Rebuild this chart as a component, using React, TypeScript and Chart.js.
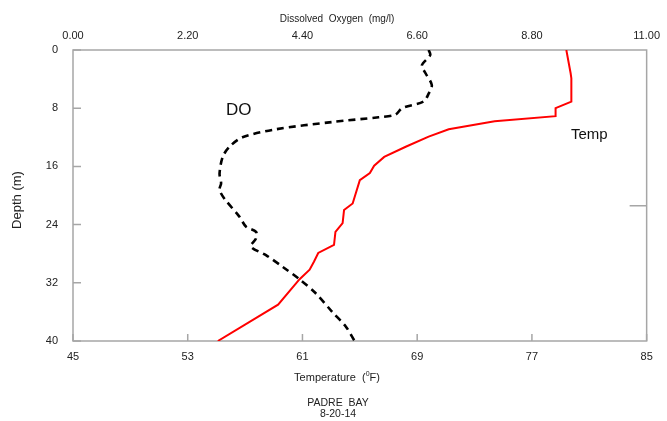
import React, { useEffect, useRef } from "react";
import { Chart, registerables } from "chart.js";

Chart.register(...registerables);

const FONT = "'Liberation Sans', Arial, sans-serif";

// Temperature profile (°F) vs depth (m)
const tempDepth = [0, 3.2, 3.9, 7.1, 8.0, 9.1, 9.8, 10.9, 11.9, 13.3, 14.7, 15.9, 16.9, 17.9, 21.1, 22.0, 23.8, 25.0, 26.8, 27.9, 29.1, 30.2, 31.5, 35.0, 40];
const tempValues = [79.4, 79.7, 79.75, 79.75, 78.65, 78.65, 74.4, 71.2, 69.8, 68.2, 66.7, 66.0, 65.7, 65.0, 64.5, 63.9, 63.8, 63.3, 63.2, 62.1, 61.8, 61.5, 60.8, 59.3, 55.1];

// Dissolved oxygen profile (mg/l) vs depth (m)
const doDepth = [0, 0.7, 2.1, 3.2, 4.8, 6.0, 7.1, 8.0, 8.9, 9.25, 9.9, 10.9, 12.0, 13.3, 14.7, 17.0, 18.3, 19.2, 20.4, 22.9, 24.3, 25.0, 25.9, 27.0, 28.2, 29.8, 31.5, 33.4, 36.0, 38.0, 40];
const doValues = [6.82, 6.85, 6.69, 6.76, 6.88, 6.82, 6.72, 6.31, 6.18, 5.86, 4.97, 3.89, 3.25, 3.0, 2.87, 2.81, 2.84, 2.81, 2.9, 3.19, 3.32, 3.51, 3.51, 3.41, 3.7, 4.02, 4.34, 4.65, 4.97, 5.23, 5.4];

// Axis ticks
const tempTicks = [45, 53, 61, 69, 77, 85];
const doTicks = [0, 2.2, 4.4, 6.6, 8.8, 11];
const depthTicks = [0, 8, 16, 24, 32, 40];

// Annotation labels
const doLabel = { text: "DO", value: 3.18, depth: 8.25 };
const tempLabel = { text: "Temp", value: 81.0, depth: 11.6 };
const strayTickDepth = 21.4;

const decorPlugin = {
  id: "decor",
  beforeDatasetsDraw(chart: any) {
    const { ctx, chartArea: a, scales } = chart;
    ctx.save();
    ctx.strokeStyle = "#a6a6a6";
    ctx.lineWidth = 1.5;
    ctx.strokeRect(a.left, a.top, a.right - a.left, a.bottom - a.top);
    ctx.beginPath();
    tempTicks.forEach((v) => {
      const x = scales.x.getPixelForValue(v);
      ctx.moveTo(x, a.bottom);
      ctx.lineTo(x, a.bottom - 7);
    });
    depthTicks.forEach((v) => {
      const y = scales.y.getPixelForValue(v);
      ctx.moveTo(a.left, y);
      ctx.lineTo(a.left + 8, y);
    });
    const sy = scales.y.getPixelForValue(strayTickDepth);
    ctx.moveTo(a.right - 17, sy);
    ctx.lineTo(a.right, sy);
    ctx.stroke();
    ctx.restore();
  },
  afterDraw(chart: any) {
    const { ctx, scales } = chart;
    ctx.save();
    ctx.fillStyle = "#222";
    ctx.textAlign = "center";
    ctx.textBaseline = "middle";

    ctx.font = `10px ${FONT}`;
    ctx.fillText("Dissolved  Oxygen  (mg/l)", 337, 19);

    // Temperature title with superscript 0
    const p1 = "Temperature  (";
    const p2 = "0";
    const p3 = "F)";
    ctx.font = `11px ${FONT}`;
    const w1 = ctx.measureText(p1).width;
    const w3 = ctx.measureText(p3).width;
    ctx.font = `7px ${FONT}`;
    const w2 = ctx.measureText(p2).width;
    const total = w1 + w2 + w3;
    let sx = 337 - total / 2;
    ctx.textAlign = "left";
    ctx.font = `11px ${FONT}`;
    ctx.fillText(p1, sx, 378);
    ctx.font = `7px ${FONT}`;
    ctx.fillText(p2, sx + w1, 374);
    ctx.font = `11px ${FONT}`;
    ctx.fillText(p3, sx + w1 + w2, 378);

    ctx.textAlign = "center";
    ctx.font = `10.5px ${FONT}`;
    ctx.fillText("PADRE  BAY", 338, 403);
    ctx.fillText("8-20-14", 338, 414);

    ctx.save();
    ctx.translate(17, 200);
    ctx.rotate(-Math.PI / 2);
    ctx.font = `13px ${FONT}`;
    ctx.fillText("Depth (m)", 0, 0);
    ctx.restore();

    ctx.fillStyle = "#111";
    ctx.font = `17px ${FONT}`;
    ctx.fillText(doLabel.text, scales.x2.getPixelForValue(doLabel.value), scales.y.getPixelForValue(doLabel.depth));
    ctx.font = `15px ${FONT}`;
    ctx.fillText(tempLabel.text, scales.x.getPixelForValue(tempLabel.value), scales.y.getPixelForValue(tempLabel.depth));
    ctx.restore();
  },
};

export default function App() {
  const ref = useRef<HTMLCanvasElement>(null);
  useEffect(() => {
    const tickFont = { family: FONT, size: 11 };
    const chart = new Chart(ref.current as HTMLCanvasElement, {
      type: "scatter",
      data: {
        datasets: [
          {
            label: "Temp",
            data: tempDepth.map((d, i) => ({ x: tempValues[i], y: d })),
            xAxisID: "x",
            yAxisID: "y",
            showLine: true,
            borderColor: "#ff0000",
            borderWidth: 2,
            pointRadius: 0,
            tension: 0,
          },
          {
            label: "DO",
            data: doDepth.map((d, i) => ({ x: doValues[i], y: d })),
            xAxisID: "x2",
            yAxisID: "y",
            showLine: true,
            borderColor: "#000000",
            borderWidth: 2.6,
            borderDash: [7, 5],
            pointRadius: 0,
            tension: 0.3,
          },
        ],
      },
      options: {
        responsive: false,
        animation: false,
        layout: { padding: { left: 0, right: 17, top: 0, bottom: 0 } },
        plugins: { legend: { display: false }, tooltip: { enabled: false } },
        scales: {
          x: {
            type: "linear",
            position: "bottom",
            min: 45,
            max: 85,
            afterBuildTicks: (s: any) => {
              s.ticks = tempTicks.map((v) => ({ value: v }));
            },
            afterFit: (s: any) => {
              s.height = 80;
            },
            grid: { display: false, drawTicks: false },
            border: { display: false },
            ticks: { padding: 9, font: tickFont, color: "#222", maxRotation: 0, autoSkip: false },
          },
          x2: {
            type: "linear",
            position: "top",
            min: 0,
            max: 11,
            afterBuildTicks: (s: any) => {
              s.ticks = doTicks.map((v) => ({ value: v }));
            },
            afterFit: (s: any) => {
              s.height = 50;
            },
            grid: { display: false, drawTicks: false },
            border: { display: false },
            ticks: {
              padding: 7,
              font: tickFont,
              color: "#222",
              maxRotation: 0,
              autoSkip: false,
              callback: (v: any) => Number(v).toFixed(2),
            },
          },
          y: {
            type: "linear",
            reverse: true,
            min: 0,
            max: 40,
            afterBuildTicks: (s: any) => {
              s.ticks = depthTicks.map((v) => ({ value: v }));
            },
            afterFit: (s: any) => {
              s.width = 73;
            },
            grid: { display: false, drawTicks: false },
            border: { display: false },
            ticks: { padding: 15, font: tickFont, color: "#222", autoSkip: false },
          },
        },
      } as any,
      plugins: [decorPlugin],
    });
    return () => chart.destroy();
  }, []);
  return (
    <div style={{ position: "fixed", left: 0, top: 0, width: 667, height: 421, background: "#fff" }}>
      <canvas ref={ref} width={667} height={421} style={{ display: "block" }} />
    </div>
  );
}
